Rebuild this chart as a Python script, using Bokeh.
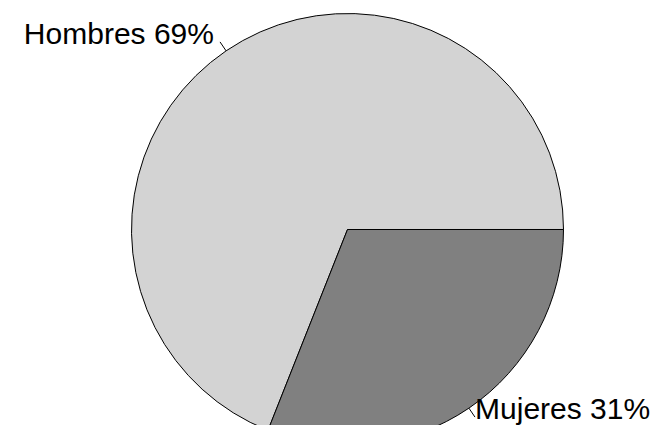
import math
from bokeh.plotting import figure
from bokeh.models import Range1d, ColumnDataSource
from bokeh.core.properties import value
from bokeh.embed import file_html
from bokeh.resources import INLINE

categories = ["Hombres", "Mujeres"]
percents = [69, 31]
colors = ["#D3D3D3", "#808080"]

# layout in figure pixels (y measured from the bottom of the frame)
W, H = 651, 425
cx, cy, r = 347, H - 229, 216
# label nudges in pixels (to keep the bottom-right label inside the frame)
nudge_x = [0, -6]
nudge_y = [-1, 18]

p = figure(width=W, height=H, output_backend="svg", toolbar_location=None,
           x_range=Range1d(0, W), y_range=Range1d(0, H),
           min_border=0, outline_line_color=None)
p.axis.visible = False
p.grid.visible = False
p.background_fill_color = "white"
p.border_fill_color = "white"

total = sum(percents)
starts, ends, mids = [], [], []
acc = 0.0
for v in percents:
    a0 = 2 * math.pi * acc / total
    acc += v
    a1 = 2 * math.pi * acc / total
    starts.append(a0); ends.append(a1); mids.append((a0 + a1) / 2)

src = ColumnDataSource(dict(start=starts, end=ends, color=colors))
p.wedge(x=cx, y=cy, radius=r, start_angle="start", end_angle="end",
        fill_color="color", line_color="black", line_width=1, source=src)

# label ticks and texts
xs0 = [cx + r * math.cos(m) for m in mids]
ys0 = [cy + r * math.sin(m) for m in mids]
xs1 = [cx + 1.05 * r * math.cos(m) for m in mids]
ys1 = [cy + 1.05 * r * math.sin(m) for m in mids]
p.segment(x0=xs0, y0=ys0, x1=xs1, y1=ys1, line_color="black", line_width=1)

lx = [cx + 1.1 * r * math.cos(m) + dx for m, dx in zip(mids, nudge_x)]
ly = [cy + 1.1 * r * math.sin(m) + dy for m, dy in zip(mids, nudge_y)]
labels = [f"{c} {v}%" for c, v in zip(categories, percents)]
aligns = ["right" if math.cos(m) < 0 else "left" for m in mids]
tsrc = ColumnDataSource(dict(x=lx, y=ly, text=labels, align=aligns))
p.text(x="x", y="y", text="text", text_align="align", text_baseline="middle",
       text_font=value("Liberation Sans"), text_font_size="30px",
       text_color="black", source=tsrc)

open("out.html", "w").write(file_html(p, INLINE))
